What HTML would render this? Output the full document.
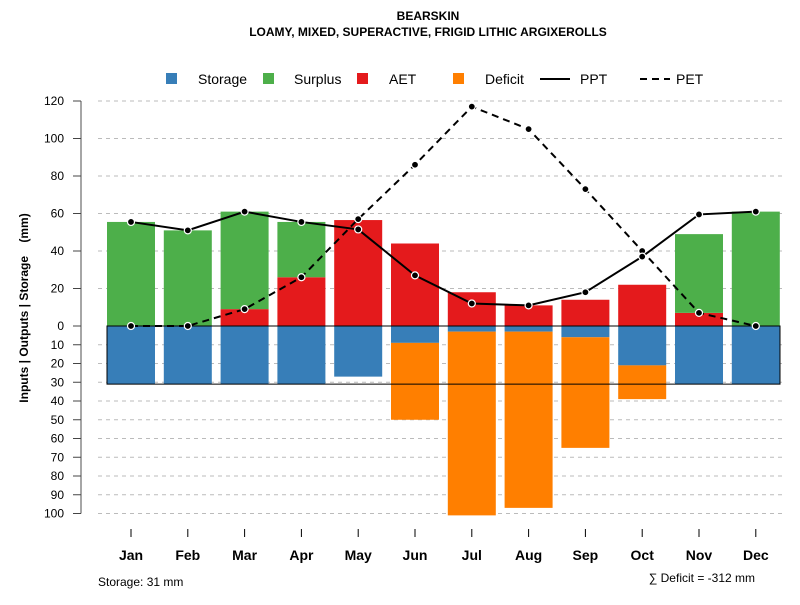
<!DOCTYPE html>
<html><head><meta charset="utf-8"><style>
body{margin:0;background:#fff;font-family:"Liberation Sans",sans-serif}
</style></head><body>
<svg id="c" width="800" height="600" xmlns="http://www.w3.org/2000/svg" font-family="Liberation Sans, sans-serif">
<text x="428" y="20" text-anchor="middle" font-size="12" font-weight="bold">BEARSKIN</text>
<text x="428" y="36" text-anchor="middle" font-size="12" font-weight="bold">LOAMY, MIXED, SUPERACTIVE, FRIGID LITHIC ARGIXEROLLS</text>
<g id="legend" font-size="14">
<rect x="166" y="73" width="11" height="11" fill="#377EB8"/><text x="198" y="84">Storage</text>
<rect x="263" y="73" width="11" height="11" fill="#4DAF4A"/><text x="294" y="84">Surplus</text>
<rect x="357" y="73" width="11" height="11" fill="#E41A1C"/><text x="389" y="84">AET</text>
<rect x="453" y="73" width="11" height="11" fill="#FF7F00"/><text x="485" y="84">Deficit</text>
<line x1="540" y1="79" x2="570" y2="79" stroke="#000" stroke-width="2"/><text x="580" y="84">PPT</text>
<line x1="640" y1="79" x2="670" y2="79" stroke="#000" stroke-width="2" stroke-dasharray="7,5"/><text x="676" y="84">PET</text>
</g>
<g id="plot"></g>
<text transform="translate(28,308) rotate(-90)" text-anchor="middle" font-size="12" font-weight="bold" style="white-space:pre" xml:space="preserve">Inputs | Outputs | Storage    (mm)</text>
<text x="98" y="586" font-size="12">Storage: 31 mm</text>
<text x="755" y="582" text-anchor="end" font-size="12">∑ Deficit = -312 mm</text>
</svg>
<script>
const months=["Jan","Feb","Mar","Apr","May","Jun","Jul","Aug","Sep","Oct","Nov","Dec"];
const aet=[0,0,9,26,56.5,44,18,11,14,22,7,0];
const surplus=[55.5,51,52,29.5,0,0,0,0,0,0,42,61];
const storage=[31,31,31,31,27,9,3,3,6,21,31,31];
const deficit=[0,0,0,0,0,41,98,94,59,18,0,0];
const ppt=[55.5,51,61,55.5,51.5,27,12,11,18,37,59.5,61];
const pet=[0,0,9,26,57,86,117,105,73,40,7,0];
const topTicks=[0,20,40,60,80,100,120];
const bottomTicks=[10,20,30,40,50,60,70,80,90,100];
const storageTotal=31;
const NS="http://www.w3.org/2000/svg";
const g=document.getElementById('plot');
const y0=326,k=1.875;
const yT=v=>y0-v*k, yB=v=>y0+v*k;
const x=i=>131+i*56.8;
const bw=48;
function mk(t,a){const e=document.createElementNS(NS,t);for(const n in a)e.setAttribute(n,a[n]);g.appendChild(e);return e;}
topTicks.forEach(v=>{if(v>0){const l=mk('line',{x1:98,x2:782,y1:yT(v),y2:yT(v),stroke:'#bbb','stroke-dasharray':'4,4'});

}});
bottomTicks.forEach(v=>{const l=mk('line',{x1:98,x2:782,y1:yB(v),y2:yB(v),stroke:'#bbb','stroke-dasharray':'4,4'});

});
const ax=mk('line',{x1:81,x2:81,y1:yT(120),y2:yB(100),stroke:'#888','stroke-width':1.5});


function tick(yy,lab){const t=mk('line',{x1:73,x2:81,y1:yy,y2:yy,stroke:'#444'});


const s=mk('text',{x:64,y:yy+4,'text-anchor':'end','font-size':12});s.textContent=lab;

}
topTicks.forEach(v=>tick(yT(v),v));
bottomTicks.forEach(v=>tick(yB(v),v));
months.forEach((m,i)=>{
 const L=x(i)-bw/2;
 if(aet[i]>0){const r=mk('rect',{x:L,y:yT(aet[i]),width:bw,height:aet[i]*k,fill:'#E41A1C'});
 
 }
 if(surplus[i]>0){const r=mk('rect',{x:L,y:yT(aet[i]+surplus[i]),width:bw,height:surplus[i]*k,fill:'#4DAF4A'});
 
 }
 if(storage[i]>0){const r=mk('rect',{x:L,y:y0,width:bw,height:storage[i]*k,fill:'#377EB8'});
 
 }
 if(deficit[i]>0){const r=mk('rect',{x:L,y:yB(storage[i]),width:bw,height:deficit[i]*k,fill:'#FF7F00'});
 
 }
 const t=mk('line',{x1:x(i),x2:x(i),y1:529,y2:537,stroke:'#000'});
 
 
 const s=mk('text',{x:x(i),y:560,'text-anchor':'middle','font-size':14,'font-weight':'bold'});s.textContent=m;
 
 
});
const box=mk('rect',{x:x(0)-bw/2,y:y0,width:780-(x(0)-bw/2),height:storageTotal*k,fill:'none',stroke:'#000','stroke-width':1});


function series(d,dash,name){
 const p=mk('polyline',{points:d.map((v,i)=>x(i)+','+yT(v)).join(' '),fill:'none',stroke:'#000','stroke-width':2,'stroke-dasharray':dash});
 
 
 d.forEach((v,i)=>{const c=mk('circle',{cx:x(i),cy:yT(v),r:3.5,fill:'#000',stroke:'#fff','stroke-width':1.2});
 
 });
}
series(pet,'7,5','pet');
series(ppt,'none','ppt');
</script>
</body></html>
